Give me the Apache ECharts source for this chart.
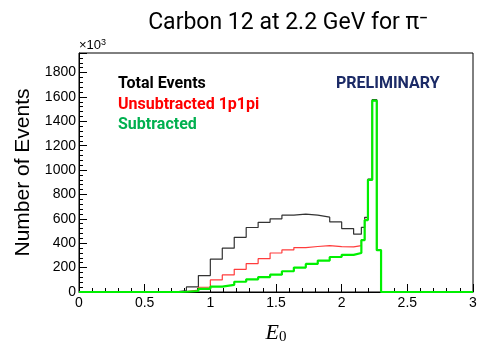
<!DOCTYPE html>
<html>
<head>
<meta charset="utf-8">
<script src="https://cdn.jsdelivr.net/npm/echarts@6/dist/echarts.min.js"></script>
<style>
  html, body { margin: 0; padding: 0; background: #fff; }
  #grafico { width: 480px; height: 344px; }
</style>
</head>
<body>
<div id="grafico"></div>
<script>
// bin edges of the histogram (E0), last edge closes the last bin
const binEdges = [0.727, 0.818, 0.909, 1.0, 1.091, 1.182, 1.273, 1.364, 1.455, 1.545,
  1.636, 1.727, 1.818, 1.909, 2.0, 2.091, 2.15, 2.175, 2.2, 2.233, 2.267, 2.3];

// counts per bin, in units of 10^3
const totalEvents = [12, 42, 135, 269, 359, 448, 529, 571, 600, 630,
  638, 630, 614, 575, 520, 474, 530, 612, 925, 1578, 343];
const unsubtracted = [4, 15, 39, 99, 140, 186, 233, 273, 320, 345,
  364, 373, 381, 372, 370, 380, 430, 595, 920, 1570, 343];
const subtracted = [2, 8, 25, 44, 58, 84, 104, 122, 142, 170,
  200, 230, 258, 287, 305, 320, 425, 590, 920, 1570, 343];

const yTicks = [0, 200, 400, 600, 800, 1000, 1200, 1400, 1600, 1800];

// turns bin values into points for a step line
function stepPoints(vals){
    let pts = [[0, 0]];
    vals.forEach((v, i) => {
        pts.push([binEdges[i], v]);
    });
    pts.push([binEdges[vals.length], 0]);
    pts.push([3, 0]);
    return pts;
}

var grafico = document.getElementById('grafico');
var myChart = echarts.init(grafico);

var axisFont = { fontFamily: 'Liberation Sans', fontSize: 14, color: '#000' };

var options = {
    animation: false,
    grid: {
        left: 79, right: 7, top: 53, bottom: 52,
        outerBoundsMode: 'none', containLabel: false,
        show: true, borderColor: '#000', borderWidth: 1
    },
    xAxis: {
        type: 'value',
        min: 0, max: 3, interval: 0.5,
        axisLine: { lineStyle: { color: '#000', width: 1 } },
        axisTick: { inside: true, length: 8, lineStyle: { color: '#000' } },
        minorTick: { show: true, splitNumber: 5, length: 4, lineStyle: { color: '#000' } },
        splitLine: { show: false },
        axisLabel: Object.assign({ margin: 4, formatter: v => String(v) }, axisFont),
        name: '{i|E}{s|0}',
        nameLocation: 'middle',
        nameGap: 30,
        nameTextStyle: {
            rich: {
                i: { fontFamily: 'Liberation Serif', fontStyle: 'italic', fontSize: 22, color: '#000' },
                s: { fontFamily: 'Liberation Serif', fontSize: 15, color: '#000', verticalAlign: 'bottom', padding: [8, 0, 0, 0] }
            }
        }
    },
    yAxis: {
        type: 'value',
        min: 0, max: 1960, interval: 200,
        axisLine: { show: true, lineStyle: { color: '#000', width: 1 } },
        axisTick: { inside: true, length: 8, lineStyle: { color: '#000' } },
        minorTick: { show: true, splitNumber: 5, length: 4, lineStyle: { color: '#000' } },
        splitLine: { show: false },
        axisLabel: Object.assign({
            margin: 3,
            formatter: v => yTicks.indexOf(v) >= 0 ? String(v) : ''
        }, axisFont),
        name: 'Number of Events',
        nameLocation: 'middle',
        nameGap: 42,
        nameTextStyle: { fontFamily: 'Liberation Sans', fontSize: 21, color: '#000' }
    },
    series: [
        {
            name: 'Total Events', type: 'line', step: 'end',
            data: stepPoints(totalEvents), showSymbol: false,
            lineStyle: { color: '#333333', width: 1.2 }, z: 2
        },
        {
            name: 'Unsubtracted 1p1pi', type: 'line', step: 'end',
            data: stepPoints(unsubtracted), showSymbol: false,
            lineStyle: { color: '#ff3c3c', width: 1.2 }, z: 3
        },
        {
            name: 'Subtracted', type: 'line', step: 'end',
            data: stepPoints(subtracted), showSymbol: false,
            lineStyle: { color: '#00f000', width: 2.2 }, z: 4
        }
    ],
    graphic: [
        { type: 'text', x: 288, y: 23, style: {
            text: 'Carbon 12 at 2.2 GeV for π⁻', fill: '#000', align: 'center',
            verticalAlign: 'middle', font: '23px Roboto'
        } },
        { type: 'text', left: 79, top: 38, style: {
            text: '{a|×10}{b|3}', fill: '#000',
            rich: {
                a: { fontFamily: 'Liberation Sans', fontSize: 13, color: '#000' },
                b: { fontFamily: 'Liberation Sans', fontSize: 9, color: '#000', verticalAlign: 'top', padding: [0, 0, 6, 0] }
            }
        } },
        { type: 'text', x: 118, y: 84, style: { text: 'Total Events', fill: '#000', verticalAlign: 'middle', font: 'bold 16px Roboto' } },
        { type: 'text', x: 118, y: 105, style: { text: 'Unsubtracted 1p1pi', fill: '#ff0000', verticalAlign: 'middle', font: 'bold 16px Roboto' } },
        { type: 'text', x: 118, y: 125, style: { text: 'Subtracted', fill: '#00b04f', verticalAlign: 'middle', font: 'bold 16px Roboto' } },
        { type: 'text', x: 336, y: 84, style: { text: 'PRELIMINARY', fill: '#1b2a66', verticalAlign: 'middle', font: 'bold 16px Roboto' } }
    ]
};
myChart.setOption(options);
</script>
</body>
</html>
